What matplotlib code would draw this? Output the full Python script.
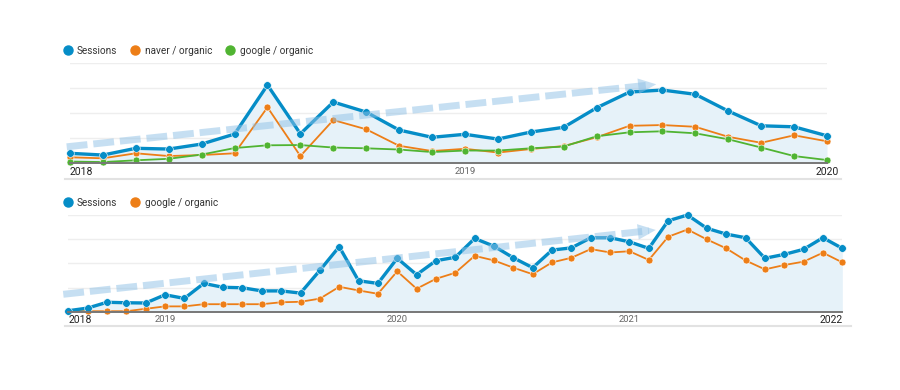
import matplotlib.pyplot as plt
from matplotlib.lines import Line2D
import numpy as np

plt.rcParams['font.family'] = ['Roboto', 'DejaVu Sans']

# top chart: monthly, Jan 2018 - Dec 2019
top_sessions = [40, 33, 60, 57, 77, 117, 313, 118, 245, 205, 133, 104,
                116, 97, 125, 144, 222, 285, 293, 276, 209, 150, 146, 110]
top_naver = [24, 20, 40, 29, 33, 40, 224, 29, 173, 136, 70, 49,
             58, 43, 57, 69, 104, 150, 153, 146, 106, 82, 112, 88]
top_google = [7, 5, 12, 18, 35, 61, 72, 73, 63, 60, 55, 45,
              51, 51, 60, 67, 108, 124, 128, 120, 96, 63, 29, 13]
top_year_pos = [0, 12, 23]
top_year_labels = ['2018', '2019', '2020']
top_trend = [(-0.1, 66), (17.6, 313)]

# bottom chart: monthly, Aug 2018 - Dec 2021
bot_sessions = [4, 15, 39, 37, 36, 70, 55, 117, 101, 99, 86, 86, 77, 171, 269,
                128, 117, 221, 153, 211, 225, 303, 271, 223, 182, 255, 264, 306,
                306, 289, 262, 376, 400, 345, 321, 306, 221, 237, 258, 306, 262]
bot_google = [4, 2, 2, 2, 12, 22, 22, 31, 31, 31, 31, 39, 41, 54, 103,
              88, 74, 167, 95, 136, 161, 231, 212, 182, 155, 204, 223, 259,
              245, 250, 214, 310, 340, 299, 262, 212, 175, 193, 207, 244, 204]
bot_year_pos = [0, 5, 17, 29, 40]
bot_year_labels = ['2018', '2019', '2020', '2021', '2022']
bot_trend = [(-0.26, 72), (30.0, 335)]

BLUE = '#058dc7'
ORANGE = '#ed7e17'
GREEN = '#50b432'
FILL = '#e6f2f9'
TREND = '#8fc1e6'


def draw_panel(ax, sessions, others, year_pos, year_labels, trend):
    x = np.arange(len(sessions))
    ax.fill_between(x, sessions, color=FILL, lw=0, zorder=1)
    for vals, color in others:
        ax.plot(x, vals, color=color, lw=1.3, marker='o', ms=5,
                mec='white', mew=0.4, clip_on=False, zorder=3)
    ax.plot(x, sessions, color=BLUE, lw=2.4, marker='o', ms=5.5,
            mec='white', mew=0.4, clip_on=False, zorder=4)

    # dashed trend arrow
    (x0, y0), (x1, y1) = trend
    ax.plot([x0, x1], [y0, y1], color=TREND, alpha=0.5, lw=5,
            linestyle=(0, (3, 0.85)), solid_capstyle='butt',
            dash_capstyle='butt', clip_on=False, zorder=5)
    hx = x1 - (x1 - x0) * 0.035
    hy = y1 - (y1 - y0) * 0.035
    ax.annotate('', xy=(x1 + (x1 - x0) * 0.012, y1 + (y1 - y0) * 0.012),
                xytext=(hx, hy),
                arrowprops=dict(arrowstyle='-|>,head_length=0.65,head_width=0.28',
                                mutation_scale=20, lw=0, color=TREND, alpha=0.5,
                                shrinkA=0, shrinkB=0),
                annotation_clip=False, zorder=5)

    ax.set_xlim(0, len(sessions) - 1)
    ax.set_ylim(0, 400)
    ax.set_yticks([100, 200, 300, 400])
    ax.yaxis.grid(True, color='#eeeeee', lw=1)
    ax.set_axisbelow(True)
    ax.tick_params(axis='y', length=0, labelleft=False)
    ax.tick_params(axis='x', length=0, pad=2.5)
    for side in ['top', 'left', 'right']:
        ax.spines[side].set_visible(False)
    ax.spines['bottom'].set_color('#777777')
    ax.spines['bottom'].set_linewidth(1.4)
    ax.spines['bottom'].set_zorder(6)

    ax.set_xticks(year_pos)
    ax.set_xticklabels(year_labels)
    labels = ax.get_xticklabels()
    for i, lbl in enumerate(labels):
        if i == 0:
            lbl.set_ha('left')
            lbl.set_color('#222222')
            lbl.set_fontsize(7.5)
        elif i == len(labels) - 1:
            lbl.set_color('#222222')
            lbl.set_fontsize(7.5)
        else:
            lbl.set_color('#666666')
            lbl.set_fontsize(6.8)
    return labels


fig = plt.figure(figsize=(9, 3.9), dpi=100)

ax_top = fig.add_axes([70 / 900, 1 - 163.3 / 390, 757 / 900, 100 / 390])
draw_panel(ax_top, top_sessions, [(top_naver, ORANGE), (top_google, GREEN)],
           top_year_pos, top_year_labels, top_trend)

ax_bot = fig.add_axes([68.3 / 900, 1 - 311.7 / 390, 774 / 900, 96.7 / 390])
bot_labels = draw_panel(ax_bot, bot_sessions, [(bot_google, ORANGE)],
                        bot_year_pos, bot_year_labels, bot_trend)
bot_labels[-1].set_ha('right')


def legend_for(ax, names, colors, y):
    handles = [Line2D([], [], marker='o', linestyle='', color=c, markersize=6.5)
               for c in colors]
    ax.legend(handles, names, loc='center left',
              bbox_to_anchor=(64 / 900, 1 - y / 390), bbox_transform=fig.transFigure,
              ncol=len(names), frameon=False, fontsize=7.2, handlelength=0.7,
              handletextpad=0.6, columnspacing=1.45, borderpad=0, borderaxespad=0,
              labelcolor='#333333')


legend_for(ax_top, ['Sessions', 'naver / organic', 'google / organic'],
           [BLUE, ORANGE, GREEN], 50.7)
legend_for(ax_bot, ['Sessions', 'google / organic'], [BLUE, ORANGE], 202.7)

# light separator lines under each widget
fig.add_artist(Line2D([65 / 900, 841 / 900], [1 - 179.3 / 390] * 2,
                      color='#e2e2e2', lw=1.5))
fig.add_artist(Line2D([65 / 900, 851 / 900], [1 - 326 / 390] * 2,
                      color='#e2e2e2', lw=1.5))

fig.savefig('out.png', dpi=100, facecolor='white')
